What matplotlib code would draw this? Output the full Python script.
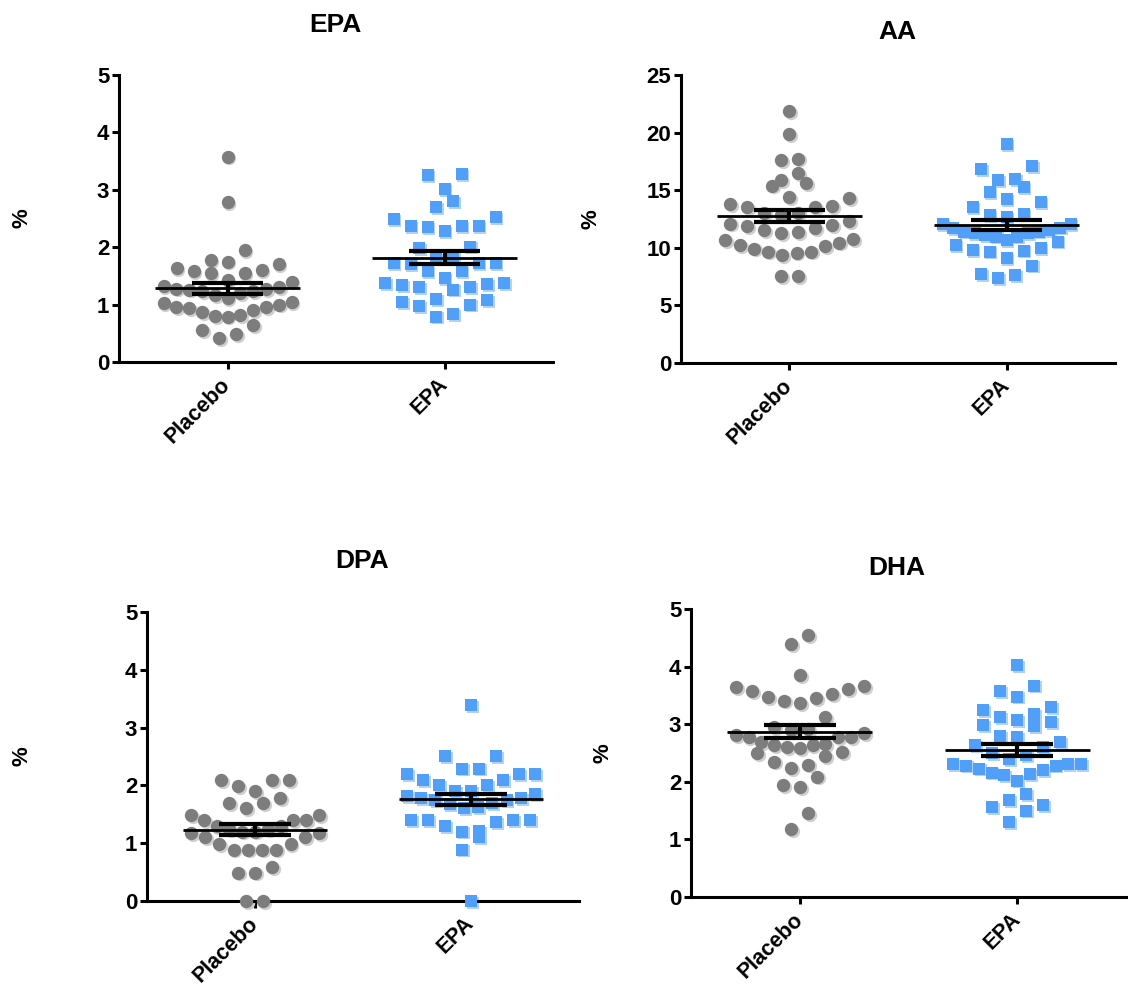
import numpy as np
import matplotlib
matplotlib.use('Agg')
import matplotlib.pyplot as plt
from matplotlib.transforms import ScaledTranslation

plt.rcParams['font.family'] = ['Liberation Sans', 'DejaVu Sans']
plt.rcParams['font.weight'] = 'bold'

groups = ['Placebo', 'EPA']

epa_placebo = [3.58, 2.78, 1.95, 1.78, 1.70, 1.60, 1.55, 1.55, 1.58, 1.63, 1.75,
               1.42, 1.32, 1.26, 1.28, 1.23, 1.12, 1.16, 1.23, 1.27, 1.30, 1.40, 1.20,
               1.02, 0.96, 0.94, 0.87, 0.80, 0.79, 0.82, 0.90, 0.95, 1.00, 1.05,
               0.55, 0.42, 0.49, 0.64]
epa_epa = [3.28, 3.26, 3.01, 2.81, 2.70, 2.52, 2.49, 2.37, 2.37, 2.28, 2.35, 2.37,
           2.01, 1.98, 1.72, 1.72, 1.59, 1.84, 1.81, 1.58, 1.71, 1.72, 1.46, 1.38,
           1.38, 1.36, 1.30, 1.26, 1.30, 1.34, 1.04, 0.97, 1.10, 1.00, 1.08, 0.79, 0.84]

aa_placebo = [21.9, 19.9, 17.75, 17.6, 15.9, 16.45, 15.4, 15.65, 14.3, 14.4, 13.65, 13.8,
              13.5, 13.5, 13.05, 13.05, 12.85, 12.1, 11.9, 11.55, 11.25, 11.37, 11.7, 11.95,
              12.3, 10.75, 10.45, 10.15, 9.67, 9.58, 9.38, 9.67, 9.93, 10.25, 10.68, 7.56, 7.56]
aa_epa = [18.97, 17.1, 16.8, 15.96, 15.88, 14.8, 15.24, 13.94, 14.2, 13.5, 12.93, 12.64,
          12.85, 12.04, 12.07, 11.7, 11.75, 11.55, 11.26, 10.97, 10.68, 11.1, 11.4, 11.3,
          11.4, 10.97, 10.54, 10.25, 9.82, 9.67, 9.76, 9.96, 9.1, 8.46, 7.71, 7.36, 7.65]

dpa_placebo = [2.09, 2.09, 2.09, 1.99, 1.90, 1.78, 1.69, 1.69, 1.60, 1.49, 1.49, 1.40,
               1.40, 1.40, 1.30, 1.25, 1.20, 1.17, 1.17, 1.20, 1.25, 1.30, 1.10, 1.10,
               0.99, 0.99, 0.89, 0.89, 0.89, 0.89, 0.49, 0.49, 0.59, 0.0, 0.0]
dpa_epa = [3.39, 2.50, 2.50, 2.29, 2.29, 2.19, 2.19, 2.19, 2.09, 2.09, 2.00, 2.00,
           1.90, 1.90, 1.85, 1.82, 1.78, 1.75, 1.70, 1.62, 1.60, 1.68, 1.75, 1.78,
           1.40, 1.40, 1.40, 1.40, 1.29, 1.36, 1.21, 1.20, 1.10, 0.89, 0.0]

dha_placebo = [4.55, 4.39, 3.85, 3.64, 3.66, 3.57, 3.61, 3.47, 3.52, 3.41, 3.45, 3.37,
               3.13, 2.95, 2.90, 2.92, 2.81, 2.78, 2.84, 2.78, 2.77, 2.69, 2.64, 2.60,
               2.58, 2.64, 2.66, 2.50, 2.51, 2.44, 2.35, 2.30, 2.24, 2.09, 1.94, 1.91,
               1.46, 1.18]
dha_epa = [4.02, 3.67, 3.58, 3.48, 3.25, 3.30, 3.12, 3.04, 2.97, 3.07, 3.18, 2.99,
           2.69, 2.77, 2.79, 2.64, 2.60, 2.47, 2.40, 2.50, 2.31, 2.31, 2.28, 2.21,
           2.14, 2.02, 2.12, 2.16, 2.23, 2.28, 2.31, 1.78, 1.68, 1.56, 1.50, 1.59, 1.30]

titles = ['EPA', 'AA', 'DPA', 'DHA']
ymaxes = [5, 25, 5, 5]
ysteps = [1, 5, 1, 1]

grey = '#7d7d7d'
grey_shadow = '#cfcfcf'
blue = '#519ff6'
blue_shadow = '#b0d2f9'


def swarm_offsets(vals, ax, ymax, row_px=17.0, gap=17.0, maxw=128.0):
    # prism-like rows: lowest value in the middle, spreading outwards
    bb = ax.get_window_extent()
    py = bb.height / ymax
    px = bb.width / 2.0
    vals = np.asarray(vals, dtype=float)
    order = np.argsort(vals, kind='stable')
    off = np.zeros(len(vals))
    rows = []
    for i in order:
        if rows and (vals[i] - vals[rows[-1][0]]) * py <= row_px:
            rows[-1].append(i)
        else:
            rows.append([i])
    for row in rows:
        n = len(row)
        step = gap if n < 2 else min(gap, maxw / (n - 1))
        slots = np.arange(n) - (n - 1) / 2.0
        slots = slots[np.argsort(np.abs(slots), kind='stable')]
        for i, s in zip(row, slots):
            off[i] = s * step / px
    return off


fig = plt.figure(figsize=(11.28, 9.88), dpi=100)

rects = [[0.1055, 0.6336, 0.3848, 0.2905],
         [0.6037, 0.6326, 0.3848, 0.2915],
         [0.1303, 0.0881, 0.3830, 0.2925],
         [0.6126, 0.0921, 0.3856, 0.2915]]
ylab_x = [-0.2235, -0.207, -0.289, -0.202]
title_pos = [(0.498, 1.174), (0.498, 1.149), (0.498, 1.176), (0.474, 1.142)]

data = [(epa_placebo, epa_epa), (aa_placebo, aa_epa),
        (dpa_placebo, dpa_epa), (dha_placebo, dha_epa)]

for k in range(4):
    ax = fig.add_axes(rects[k])
    ymax = ymaxes[k]
    ax.set_xlim(-0.5, 1.5)
    ax.set_ylim(0, ymax)
    shadow = ax.transData + ScaledTranslation(1.3 / 72, -1.3 / 72, fig.dpi_scale_trans)

    for g, vals in enumerate(data[k]):
        vals = np.asarray(vals)
        xs = g + swarm_offsets(vals, ax, ymax)
        if g == 0:
            ax.scatter(xs, vals, s=92, marker='o', color=grey_shadow, linewidths=0,
                       transform=shadow, clip_on=False, zorder=2)
            ax.scatter(xs, vals, s=92, marker='o', color=grey, linewidths=0,
                       clip_on=False, zorder=3)
        else:
            ax.scatter(xs, vals, s=80, marker='s', color=blue_shadow, linewidths=0,
                       transform=shadow, clip_on=False, zorder=2)
            ax.scatter(xs, vals, s=80, marker='s', color=blue, linewidths=0,
                       clip_on=False, zorder=3)

        m = vals.mean()
        sem = vals.std(ddof=1) / np.sqrt(len(vals))
        ax.hlines(m, g - 0.333, g + 0.333, color='black', lw=2.0, zorder=5)
        ax.hlines([m - sem, m + sem], g - 0.165, g + 0.165, color='black', lw=3.0, zorder=5)
        ax.vlines(g, m - sem, m + sem, color='black', lw=3.0, zorder=5)

    ticks = np.arange(0, ymax + 0.1, ysteps[k])
    ax.set_yticks(ticks)
    ax.set_yticklabels([str(int(t)) for t in ticks], fontsize=16, fontweight='bold')
    ax.set_xticks([0, 1])
    ax.set_xticklabels(groups, rotation=45, ha='right', va='center',
                       rotation_mode='anchor', fontsize=15.5, fontweight='bold')
    ax.tick_params(axis='both', direction='out', length=5, width=2.2)
    ax.tick_params(axis='x', pad=9)
    ax.tick_params(axis='y', pad=2)
    for side in ['top', 'right']:
        ax.spines[side].set_visible(False)
    for side in ['left', 'bottom']:
        ax.spines[side].set_linewidth(2.2)

    ax.text(ylab_x[k], 0.5, '%', rotation=90, ha='center', va='center',
            fontsize=16, fontweight='bold', transform=ax.transAxes)
    ax.text(title_pos[k][0], title_pos[k][1], titles[k], ha='center', va='center',
            fontsize=19, fontweight='bold', transform=ax.transAxes)

fig.savefig('out.png', dpi=100)
